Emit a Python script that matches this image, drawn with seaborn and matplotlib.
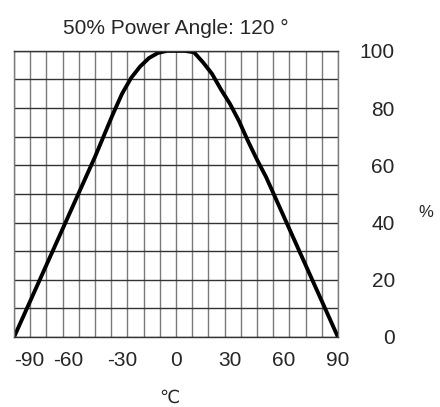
import numpy as np
import pandas as pd
import matplotlib
matplotlib.use("Agg")
import matplotlib.pyplot as plt
import seaborn as sns

# ==========================================
# DATA
# ==========================================
angle = [-90, -80, -70, -60, -50, -45, -40, -35, -30, -25, -20, -15, -10, -5, 0,
         5, 10, 15, 20, 25, 30, 35, 40, 45, 50, 60, 70, 80, 90]
power = [0, 14, 28, 42, 56, 63, 70.5, 78, 85, 90.5, 94.5, 97.5, 99.3, 100, 100,
         100, 99.5, 96, 92, 86.5, 81.5, 75.5, 68.5, 62, 56, 42, 28, 14, 0]

x_ticks = [-90, -60, -30, 0, 30, 60, 90]
y_ticks = [0, 20, 40, 60, 80, 100]
title = "50% Power Angle: 120 °"

df = pd.DataFrame({"angle": angle, "power": power})

# ==========================================
# STYLE
# ==========================================
sns.set_style("white")
plt.rcParams["font.family"] = ["Liberation Sans", "DejaVu Sans"]
plt.rcParams["axes.unicode_minus"] = False

fig = plt.figure(figsize=(4.4, 4.07), dpi=100)
ax = fig.add_axes([0.032, 0.172, 0.736, 0.703])

sns.lineplot(data=df, x="angle", y="power", color="black", linewidth=2.8, ax=ax)

ax.set_xlim(-90, 90)
ax.set_ylim(0, 100)

# grid: 9 degree columns, 10 % rows (keep minor lines that sit on major ticks)
ax.xaxis.remove_overlapping_locs = False
ax.yaxis.remove_overlapping_locs = False
ax.set_xticks(x_ticks)
ax.set_xticks(np.arange(-90, 91, 9), minor=True)
ax.set_yticks(y_ticks)
ax.set_yticks(np.arange(0, 101, 10), minor=True)
ax.grid(which="major", visible=False)
ax.grid(which="minor", axis="x", color="#7a7a7a", linewidth=1.0)
ax.grid(which="minor", axis="y", color="#333333", linewidth=1.0)
ax.set_axisbelow(True)

for side in ["left", "right"]:
    ax.spines[side].set_color("#7a7a7a")
    ax.spines[side].set_linewidth(1.0)
for side in ["top", "bottom"]:
    ax.spines[side].set_color("#333333")
    ax.spines[side].set_linewidth(1.0)

ax.tick_params(which="both", length=0)
ax.tick_params(axis="x", labelsize=15, pad=10)
ax.get_xticklabels()[0].set_horizontalalignment("left")
ax.yaxis.tick_right()
ax.tick_params(axis="y", labelsize=15, pad=41)
for lbl in ax.get_yticklabels():
    lbl.set_horizontalalignment("right")

ax.set_xlabel("")
ax.set_ylabel("")
ax.set_title(title, fontsize=15, pad=12)

fig.text(0.968, 0.477, "%", fontsize=12, ha="center", va="center")
fig.text(0.386, 0.022, "℃", fontsize=13, ha="center", va="center")

fig.savefig("out.png", dpi=100)
